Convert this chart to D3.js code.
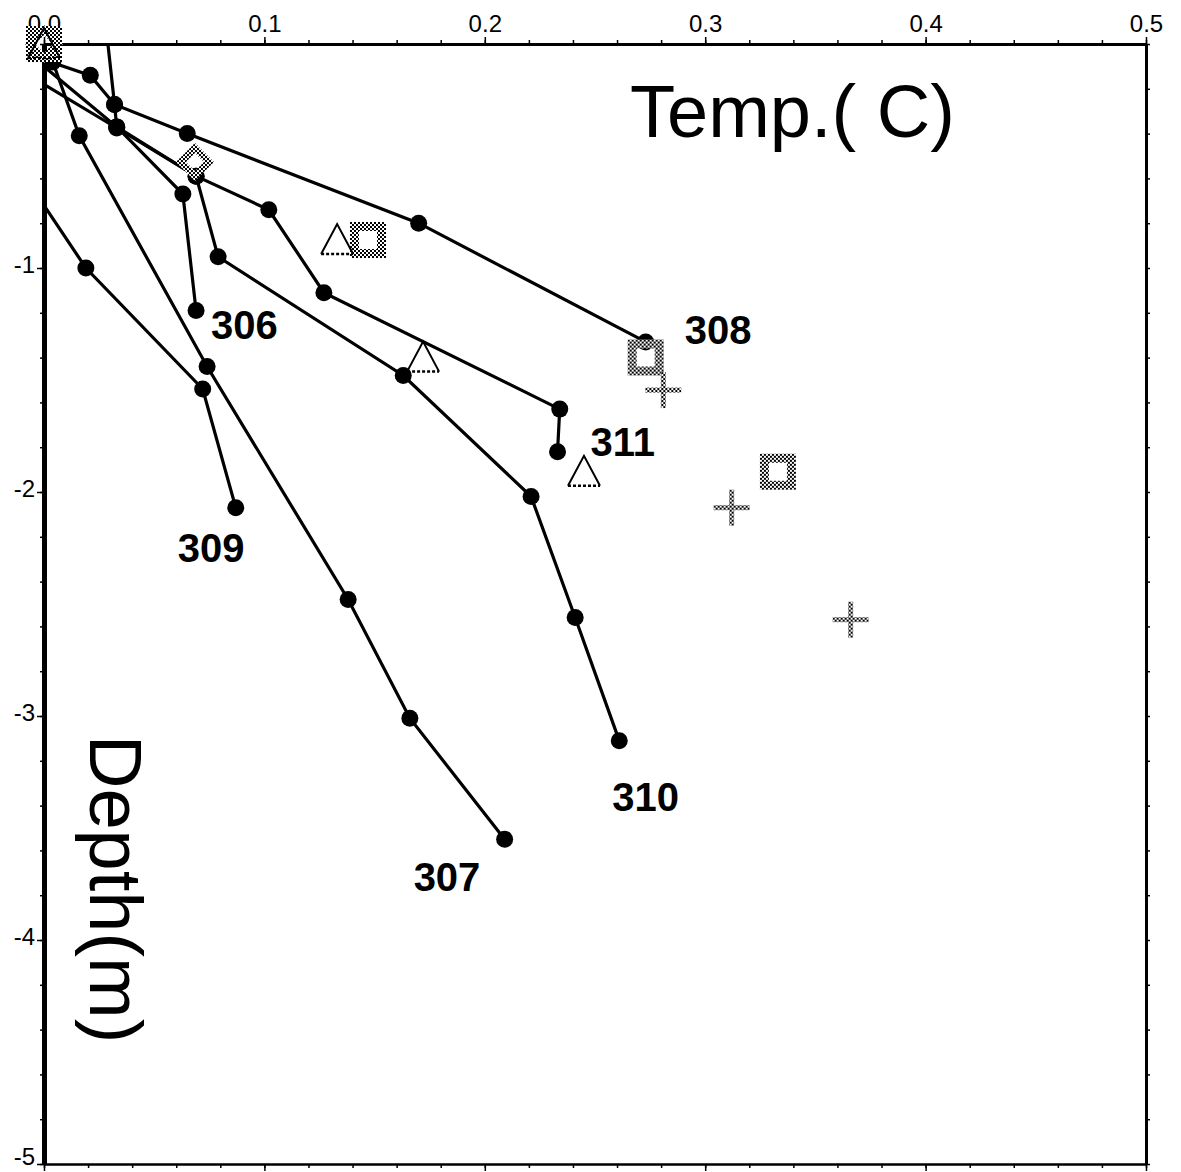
<!DOCTYPE html>
<html>
<head>
<meta charset="utf-8">
<script src="https://cdn.jsdelivr.net/npm/d3@7"></script>
<style>
  body { margin: 0; background: #fff; }
  svg { display: block; }
</style>
</head>
<body>
<div id="chart"></div>
<script>
// measured profiles: [temperature (C), depth (m)]
const s306 = [[0.029, 0], [0.032, -0.27], [0.033, -0.37], [0.063, -0.67], [0.069, -1.19]];
const s307 = [[0.004, -0.08], [0.016, -0.41], [0.074, -1.44], [0.138, -2.48], [0.166, -3.01], [0.209, -3.55]];
const s308 = [[0.0, -0.07], [0.021, -0.14], [0.032, -0.27], [0.065, -0.40], [0.170, -0.80], [0.273, -1.33]];
const s309 = [[0.0, -0.72], [0.019, -1.00], [0.072, -1.54], [0.087, -2.07]];
const s310 = [[0.0, -0.18], [0.033, -0.375], [0.069, -0.59], [0.079, -0.95], [0.163, -1.48], [0.221, -2.02], [0.241, -2.56], [0.261, -3.11]];
const s311 = [[0.0, -0.10], [0.033, -0.37], [0.069, -0.59], [0.102, -0.74], [0.127, -1.11], [0.234, -1.63], [0.233, -1.82]];

// other symbols
const squares = [[0, 0], [0.147, -0.875], [0.273, -1.40], [0.333, -1.91]];
const triangles = [[0, 0], [0.133, -0.875], [0.172, -1.40], [0.245, -1.91]];
const crosses = [[0.281, -1.545], [0.312, -2.07], [0.366, -2.57]];
const diamonds = [[0, 0], [0.0685, -0.527]];

const xTicks = [0, 0.1, 0.2, 0.3, 0.4, 0.5];
const yTicks = [-1, -2, -3, -4, -5];

const W = 1181, H = 1172;
const svg = d3.select("#chart").append("svg")
    .attr("width", W)
    .attr("height", H)
    .attr("viewBox", `0 0 ${W} ${H}`)
    .style("font-family", "'Liberation Sans', Arial, sans-serif");

const x = d3.scaleLinear().domain([0, 0.5]).range([44, 1146]);
const y = d3.scaleLinear().domain([0, -5]).range([44, 1164]);

// halftone pattern for the grey symbols
const defs = svg.append("defs");
const pat = defs.append("pattern")
    .attr("id", "dots")
    .attr("width", 4)
    .attr("height", 4)
    .attr("patternUnits", "userSpaceOnUse");
pat.append("rect").attr("width", 4).attr("height", 4).attr("fill", "#fff");
pat.append("rect").attr("width", 2).attr("height", 2).attr("fill", "#000");
pat.append("rect").attr("x", 2).attr("y", 2).attr("width", 2).attr("height", 2).attr("fill", "#000");

// axes
const minorX = d3.range(0, 0.5001, 0.02);
const minorY = d3.range(0, -5.0001, -0.2);

function styleAxis(g, w) {
    g.select(".domain").attr("stroke", "#000").attr("stroke-width", w);
    g.selectAll(".tick line").attr("stroke", "#000").attr("stroke-width", 1.5);
}

svg.append("g").attr("transform", `translate(0,${y(0)})`)
    .call(d3.axisTop(x).tickValues(minorX).tickSize(4).tickFormat("").tickSizeOuter(0))
    .call(g => styleAxis(g, 3));
svg.append("g").attr("transform", `translate(0,${y(0)})`)
    .call(d3.axisTop(x).tickValues(xTicks).tickSize(7).tickFormat(d3.format(".1f")).tickSizeOuter(0))
    .call(g => styleAxis(g, 3))
    .call(g => g.selectAll("text").attr("font-size", 24).attr("fill", "#000").attr("dy", "-0.1em"));

svg.append("g").attr("transform", `translate(0,${y(-5)})`)
    .call(d3.axisBottom(x).tickValues(minorX).tickSize(4).tickFormat("").tickSizeOuter(0))
    .call(g => styleAxis(g, 2));
svg.append("g").attr("transform", `translate(0,${y(-5)})`)
    .call(d3.axisBottom(x).tickValues(xTicks).tickSize(7).tickFormat("").tickSizeOuter(0))
    .call(g => styleAxis(g, 2));

svg.append("g").attr("transform", `translate(${x(0)},0)`)
    .call(d3.axisLeft(y).tickValues(minorY).tickSize(4).tickFormat("").tickSizeOuter(0))
    .call(g => styleAxis(g, 5));
svg.append("g").attr("transform", `translate(${x(0)},0)`)
    .call(d3.axisLeft(y).tickValues(yTicks).tickSize(7).tickFormat(d => String(d)).tickSizeOuter(0))
    .call(g => styleAxis(g, 5))
    .call(g => g.selectAll("text")
        .attr("font-size", 24)
        .attr("fill", "#000")
        .attr("x", -9)
        .attr("dy", d => d === -5 ? "0.02em" : "0.2em"));

svg.append("g").attr("transform", `translate(${x(0.5)},0)`)
    .call(d3.axisRight(y).tickValues(minorY).tickSize(4).tickFormat("").tickSizeOuter(0))
    .call(g => styleAxis(g, 3));

// axis titles
svg.append("text")
    .attr("x", 630)
    .attr("y", 137)
    .attr("font-size", 74)
    .attr("fill", "#000")
    .text("Temp.( C)");

svg.append("text")
    .attr("transform", "translate(90,735) rotate(90)")
    .attr("font-size", 74)
    .attr("fill", "#000")
    .text("Depth(m)");

// profiles
const series = [
    {name: "306", data: s306, dx: 15, dy: 28},
    {name: "307", data: s307, dx: -91, dy: 52},
    {name: "308", data: s308, dx: 39, dy: 2},
    {name: "309", data: s309, dx: -58, dy: 54},
    {name: "310", data: s310, dx: -7, dy: 70},
    {name: "311", data: s311, dx: 33, dy: 4}
];

const line = d3.line().x(d => x(d[0])).y(d => y(d[1]));

series.forEach(s => {
    svg.append("path")
        .datum(s.data)
        .attr("d", line)
        .attr("fill", "none")
        .attr("stroke", "#000")
        .attr("stroke-width", 3.2);
});

series.forEach(s => {
    // points on the axes themselves show no marker
    svg.append("g").selectAll("circle")
        .data(s.data.filter(d => d[0] > 0.001 && d[1] < -0.001))
        .join("circle")
        .attr("cx", d => x(d[0]))
        .attr("cy", d => y(d[1]))
        .attr("r", 8.5)
        .attr("fill", "#000");

    const last = s.data[s.data.length - 1];
    svg.append("text")
        .attr("x", x(last[0]) + s.dx)
        .attr("y", y(last[1]) + s.dy)
        .attr("font-size", 40)
        .attr("font-weight", "bold")
        .attr("fill", "#000")
        .text(s.name);
});

// grey squares (hollow)
svg.append("g").selectAll("path")
    .data(squares)
    .join("path")
    .attr("transform", d => `translate(${x(d[0])},${y(d[1])})`)
    .attr("d", "M-18,-18H18V18H-18Z M-9,-9V9H9V-9Z")
    .attr("fill", "url(#dots)")
    .attr("fill-rule", "evenodd");

// diamonds (hollow)
svg.append("g").selectAll("path")
    .data(diamonds)
    .join("path")
    .attr("transform", d => `translate(${x(d[0])},${y(d[1])})`)
    .attr("d", "M0,-19L19,0L0,19L-19,0Z M0,-9L-9,0L0,9L9,0Z")
    .attr("fill", "url(#dots)")
    .attr("fill-rule", "evenodd");

// triangles: solid sides, dashed base
const tri = svg.append("g").selectAll("g")
    .data(triangles)
    .join("g")
    .attr("transform", d => `translate(${x(d[0])},${y(d[1])})`);
tri.append("path")
    .attr("d", "M-16,14L0,-16L16,14")
    .attr("fill", "none")
    .attr("stroke", "#000")
    .attr("stroke-width", 2);
tri.append("line")
    .attr("x1", -16).attr("y1", 14).attr("x2", 16).attr("y2", 14)
    .attr("stroke", "#000")
    .attr("stroke-width", 2.5)
    .attr("stroke-dasharray", "3,2");

// crosses
const cr = svg.append("g").selectAll("g")
    .data(crosses)
    .join("g")
    .attr("transform", d => `translate(${x(d[0])},${y(d[1])})`);
cr.append("rect").attr("x", -18).attr("y", -2.5).attr("width", 36).attr("height", 5).attr("fill", "url(#dots)");
cr.append("rect").attr("x", -2.5).attr("y", -18).attr("width", 5).attr("height", 36).attr("fill", "url(#dots)");
</script>
</body>
</html>
